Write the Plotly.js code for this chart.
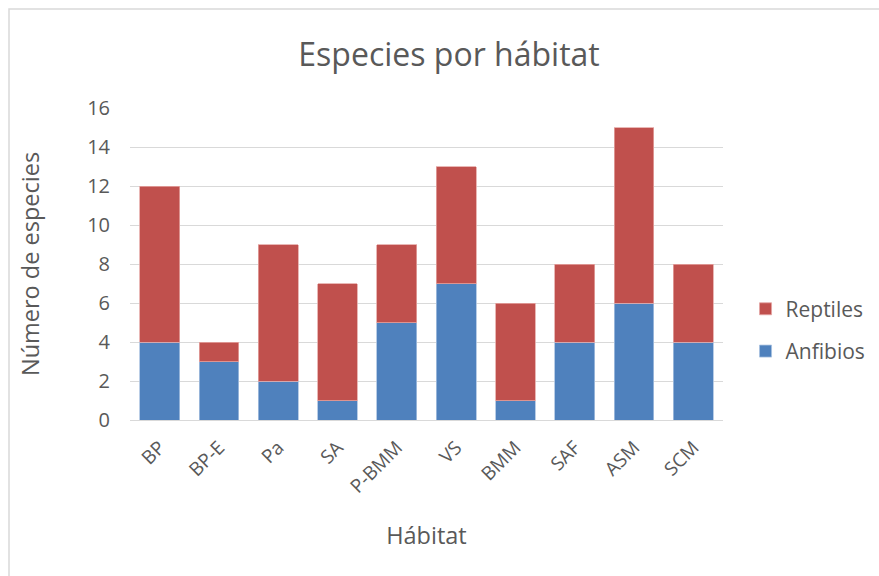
<!DOCTYPE html>
<html>
<head>
<meta charset="utf-8">
<script src="https://cdn.plot.ly/plotly-3.0.1.min.js"></script>
<style>
  html, body { margin: 0; padding: 0; background: #ffffff; }
  #chart { width: 879px; height: 576px; }
</style>
</head>
<body>
<div id="chart"></div>
<script>
// Species count per habitat, split by group
const habitats = ['BP', 'BP-E', 'Pa', 'SA', 'P-BMM', 'VS', 'BMM', 'SAF', 'ASM', 'SCM'];
const anfibios = [4, 3, 2, 1, 5, 7, 1, 4, 6, 4];
const reptiles = [8, 1, 7, 6, 4, 6, 5, 4, 9, 4];
const yTicks = [0, 2, 4, 6, 8, 10, 12, 14, 16];

const FONT = '"Open Sans", Lato, sans-serif';
const TEXT = '#595959';

const traces = [
  {
    type: 'bar',
    name: 'Anfibios',
    legendgroup: 'a',
    legendrank: 2,
    x: habitats,
    y: anfibios,
    marker: { color: '#4F81BD', line: { color: '#A7C0E0', width: 0.8 } },
    hoverinfo: 'x+y+name'
  },
  {
    type: 'bar',
    name: 'Reptiles',
    legendgroup: 'r',
    legendrank: 1,
    x: habitats,
    y: reptiles,
    marker: { color: '#C0504D', line: { color: '#E3A5A3', width: 0.8 } },
    hoverinfo: 'x+y+name'
  }
];

const layout = {
  width: 879,
  height: 576,
  paper_bgcolor: '#ffffff',
  plot_bgcolor: '#ffffff',
  font: { family: FONT, color: TEXT, size: 17 },
  barmode: 'stack',
  bargap: 0.33,
  margin: { l: 130, r: 156, t: 108, b: 156, autoexpand: false },
  title: {
    text: 'Especies por hábitat',
    font: { family: FONT, size: 32, color: TEXT },
    xref: 'paper', x: 0.538, xanchor: 'center',
    yref: 'container', y: 0.905, yanchor: 'middle'
  },
  xaxis: {
    type: 'category',
    tickangle: -45,
    tickfont: { size: 19, color: TEXT },
    showgrid: false,
    showline: true,
    linecolor: '#D9D9D9',
    linewidth: 1,
    ticks: '',
    ticklabelstandoff: 8,
    title: { text: 'Hábitat', font: { size: 23.5, color: TEXT }, standoff: 30 },
    fixedrange: true
  },
  yaxis: {
    range: [0, 16],
    tickvals: yTicks,
    ticktext: yTicks.map(String),
    tickfont: { size: 20, color: TEXT },
    showgrid: true,
    gridcolor: '#D9D9D9',
    gridwidth: 1,
    zeroline: false,
    showline: false,
    ticks: '',
    ticklabelstandoff: 19,
    title: { text: 'Número de especies', font: { size: 23.5, color: TEXT }, standoff: 40 },
    fixedrange: true
  },
  legend: {
    x: 1.038, xanchor: 'left',
    y: 0.288, yanchor: 'middle',
    traceorder: 'grouped',
    tracegroupgap: 12,
    font: { size: 21, color: TEXT },
    bgcolor: 'rgba(0,0,0,0)'
  },
  shapes: [
    {
      type: 'rect', xref: 'paper', yref: 'paper',
      x0: -121 / 593, x1: 1 + 170 / 593,
      y0: -170 / 312, y1: 1 + 99 / 312,
      line: { color: '#D9D9D9', width: 1.5 },
      fillcolor: 'rgba(0,0,0,0)',
      layer: 'below'
    }
  ],
  showlegend: true
};

Plotly.newPlot('chart', traces, layout, { displayModeBar: false, staticPlot: true });
</script>
</body>
</html>
